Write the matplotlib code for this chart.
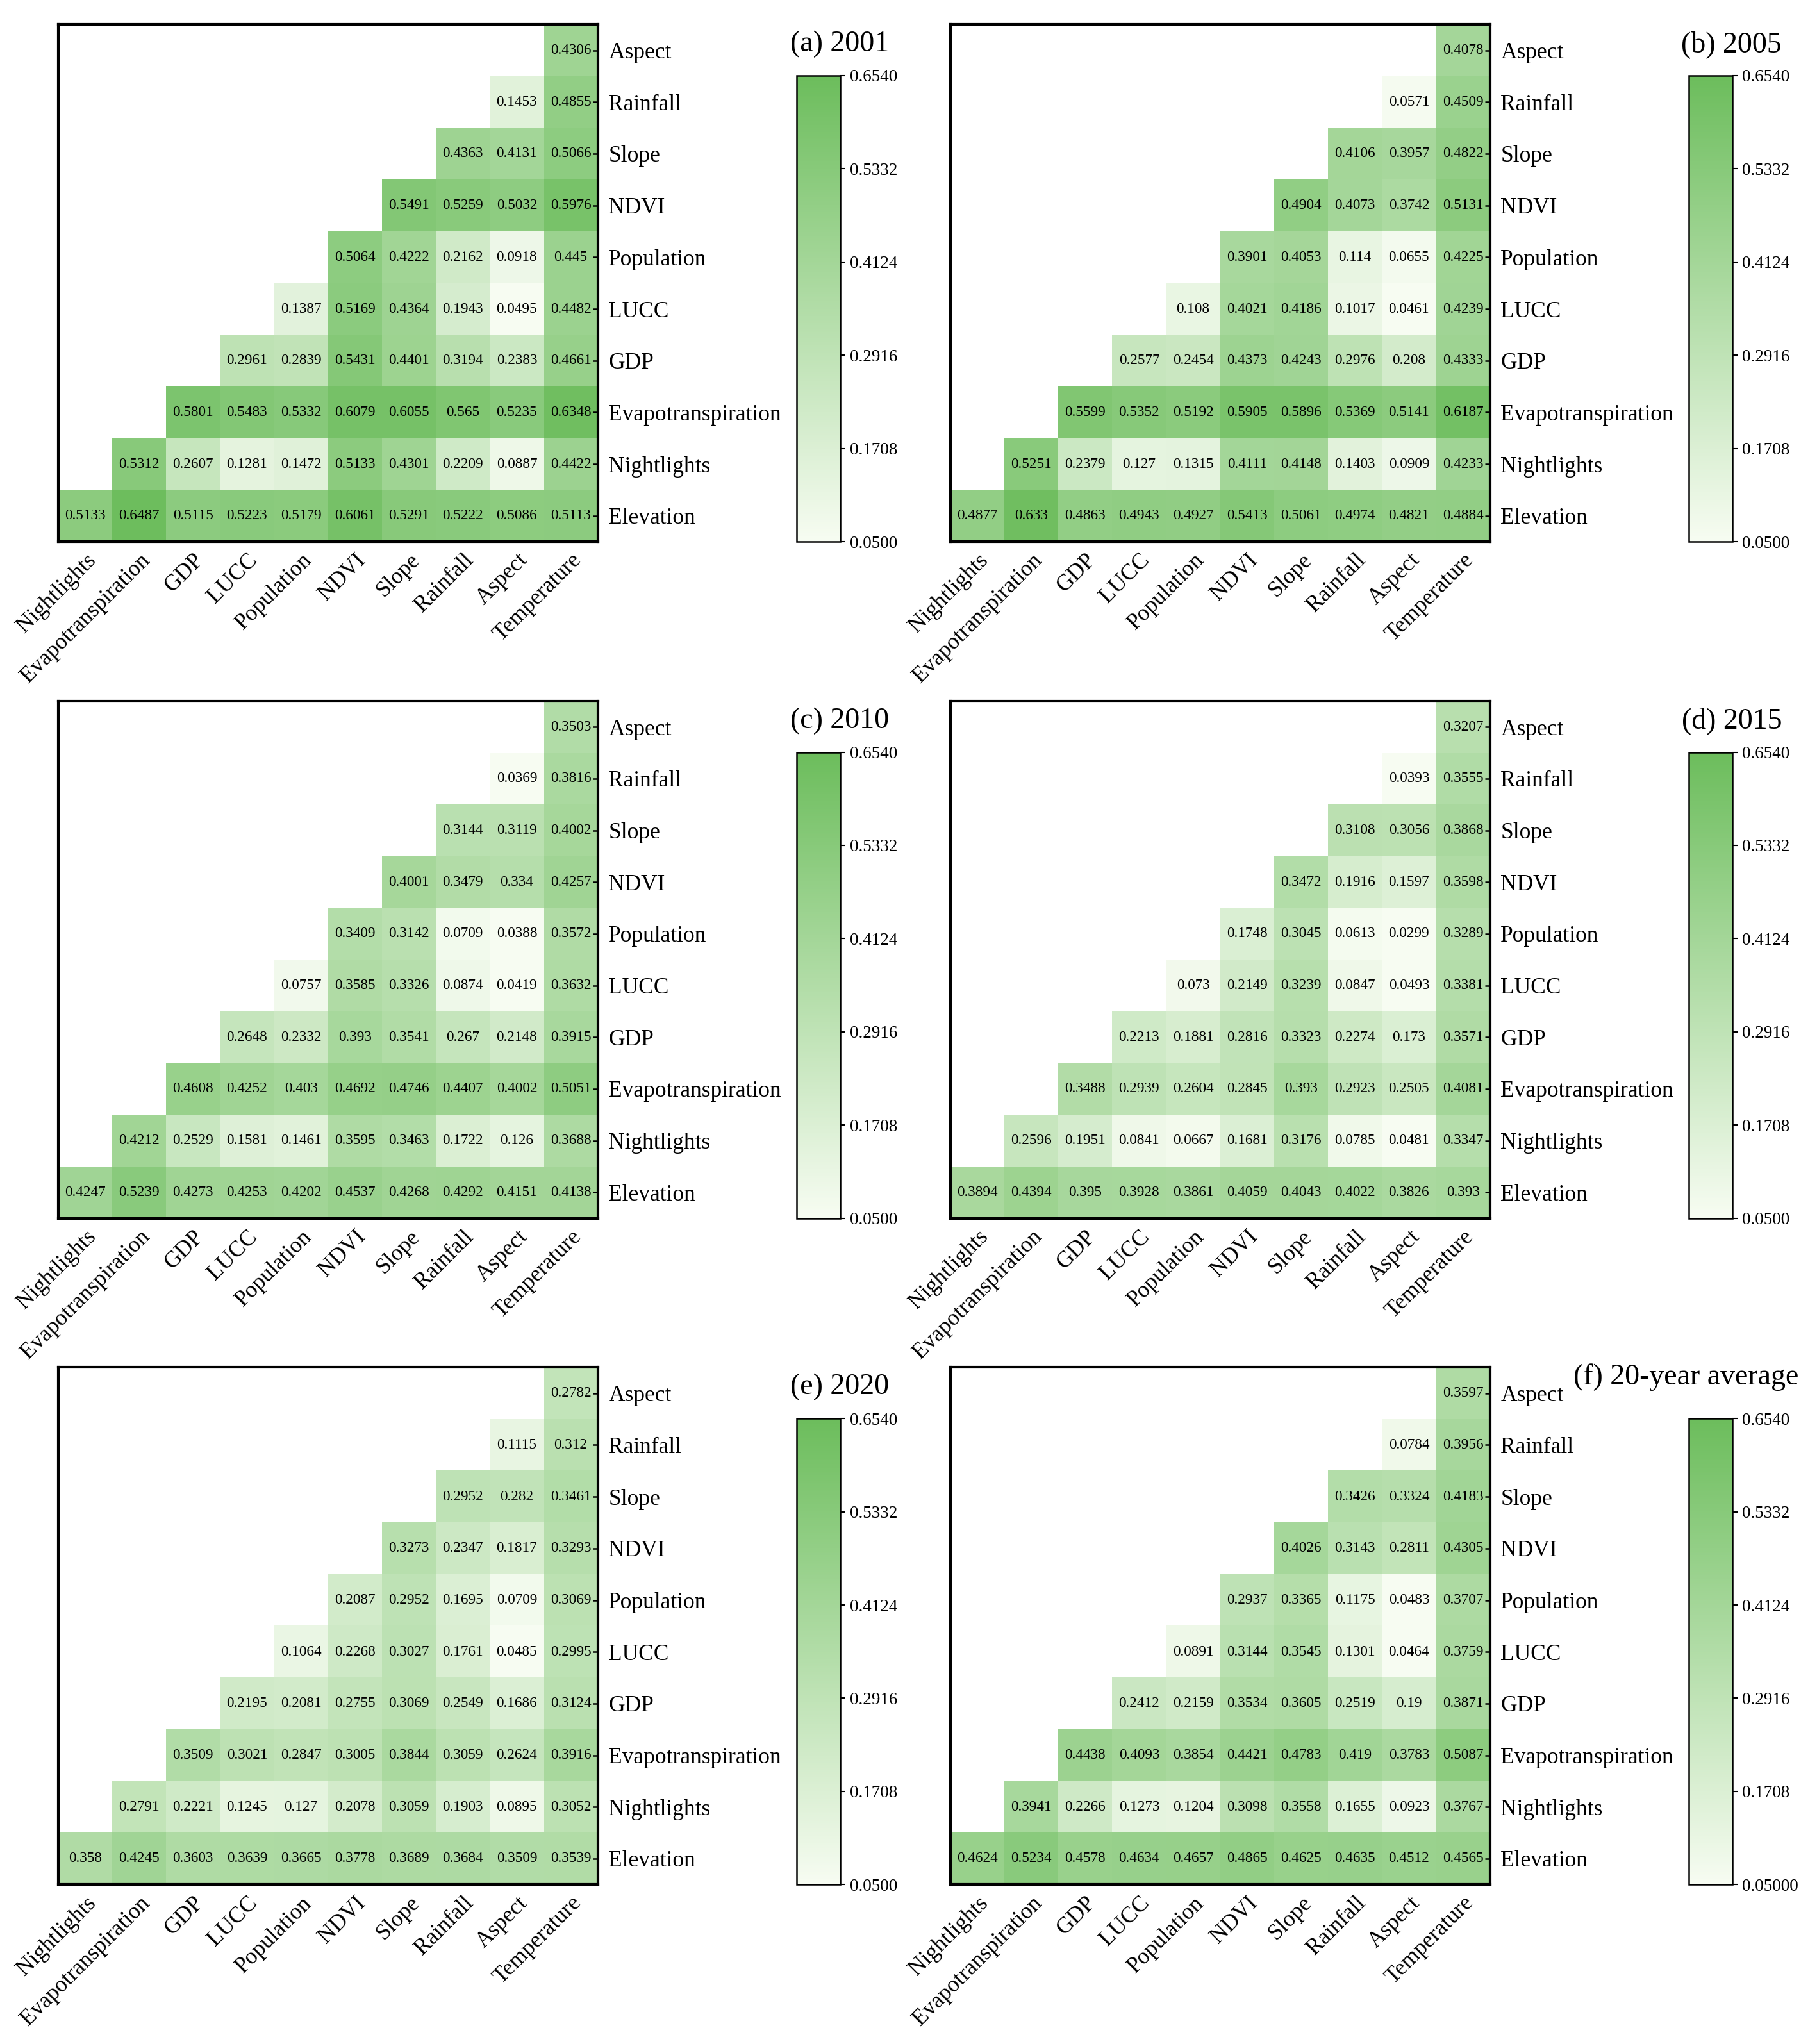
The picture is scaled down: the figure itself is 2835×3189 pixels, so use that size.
import matplotlib
matplotlib.use("Agg")
import matplotlib.pyplot as plt
import numpy as np
from matplotlib.colors import LinearSegmentedColormap

plt.rcParams['font.family'] = ['Liberation Serif', 'DejaVu Serif']

rows = ['Aspect', 'Rainfall', 'Slope', 'NDVI', 'Population', 'LUCC', 'GDP',
        'Evapotranspiration', 'Nightlights', 'Elevation']
cols = ['Nightlights', 'Evapotranspiration', 'GDP', 'LUCC', 'Population', 'NDVI',
        'Slope', 'Rainfall', 'Aspect', 'Temperature']

# each row lists its values left to right (right-aligned triangle)
y2001 = [[0.4306], [0.1453, 0.4855], [0.4363, 0.4131, 0.5066],
         [0.5491, 0.5259, 0.5032, 0.5976], [0.5064, 0.4222, 0.2162, 0.0918, 0.445],
         [0.1387, 0.5169, 0.4364, 0.1943, 0.0495, 0.4482],
         [0.2961, 0.2839, 0.5431, 0.4401, 0.3194, 0.2383, 0.4661],
         [0.5801, 0.5483, 0.5332, 0.6079, 0.6055, 0.565, 0.5235, 0.6348],
         [0.5312, 0.2607, 0.1281, 0.1472, 0.5133, 0.4301, 0.2209, 0.0887, 0.4422],
         [0.5133, 0.6487, 0.5115, 0.5223, 0.5179, 0.6061, 0.5291, 0.5222, 0.5086, 0.5113]]
y2005 = [[0.4078], [0.0571, 0.4509], [0.4106, 0.3957, 0.4822],
         [0.4904, 0.4073, 0.3742, 0.5131], [0.3901, 0.4053, 0.114, 0.0655, 0.4225],
         [0.108, 0.4021, 0.4186, 0.1017, 0.0461, 0.4239],
         [0.2577, 0.2454, 0.4373, 0.4243, 0.2976, 0.208, 0.4333],
         [0.5599, 0.5352, 0.5192, 0.5905, 0.5896, 0.5369, 0.5141, 0.6187],
         [0.5251, 0.2379, 0.127, 0.1315, 0.4111, 0.4148, 0.1403, 0.0909, 0.4233],
         [0.4877, 0.633, 0.4863, 0.4943, 0.4927, 0.5413, 0.5061, 0.4974, 0.4821, 0.4884]]
y2010 = [[0.3503], [0.0369, 0.3816], [0.3144, 0.3119, 0.4002],
         [0.4001, 0.3479, 0.334, 0.4257], [0.3409, 0.3142, 0.0709, 0.0388, 0.3572],
         [0.0757, 0.3585, 0.3326, 0.0874, 0.0419, 0.3632],
         [0.2648, 0.2332, 0.393, 0.3541, 0.267, 0.2148, 0.3915],
         [0.4608, 0.4252, 0.403, 0.4692, 0.4746, 0.4407, 0.4002, 0.5051],
         [0.4212, 0.2529, 0.1581, 0.1461, 0.3595, 0.3463, 0.1722, 0.126, 0.3688],
         [0.4247, 0.5239, 0.4273, 0.4253, 0.4202, 0.4537, 0.4268, 0.4292, 0.4151, 0.4138]]
y2015 = [[0.3207], [0.0393, 0.3555], [0.3108, 0.3056, 0.3868],
         [0.3472, 0.1916, 0.1597, 0.3598], [0.1748, 0.3045, 0.0613, 0.0299, 0.3289],
         [0.073, 0.2149, 0.3239, 0.0847, 0.0493, 0.3381],
         [0.2213, 0.1881, 0.2816, 0.3323, 0.2274, 0.173, 0.3571],
         [0.3488, 0.2939, 0.2604, 0.2845, 0.393, 0.2923, 0.2505, 0.4081],
         [0.2596, 0.1951, 0.0841, 0.0667, 0.1681, 0.3176, 0.0785, 0.0481, 0.3347],
         [0.3894, 0.4394, 0.395, 0.3928, 0.3861, 0.4059, 0.4043, 0.4022, 0.3826, 0.393]]
y2020 = [[0.2782], [0.1115, 0.312], [0.2952, 0.282, 0.3461],
         [0.3273, 0.2347, 0.1817, 0.3293], [0.2087, 0.2952, 0.1695, 0.0709, 0.3069],
         [0.1064, 0.2268, 0.3027, 0.1761, 0.0485, 0.2995],
         [0.2195, 0.2081, 0.2755, 0.3069, 0.2549, 0.1686, 0.3124],
         [0.3509, 0.3021, 0.2847, 0.3005, 0.3844, 0.3059, 0.2624, 0.3916],
         [0.2791, 0.2221, 0.1245, 0.127, 0.2078, 0.3059, 0.1903, 0.0895, 0.3052],
         [0.358, 0.4245, 0.3603, 0.3639, 0.3665, 0.3778, 0.3689, 0.3684, 0.3509, 0.3539]]
yavg = [[0.3597], [0.0784, 0.3956], [0.3426, 0.3324, 0.4183],
        [0.4026, 0.3143, 0.2811, 0.4305], [0.2937, 0.3365, 0.1175, 0.0483, 0.3707],
        [0.0891, 0.3144, 0.3545, 0.1301, 0.0464, 0.3759],
        [0.2412, 0.2159, 0.3534, 0.3605, 0.2519, 0.19, 0.3871],
        [0.4438, 0.4093, 0.3854, 0.4421, 0.4783, 0.419, 0.3783, 0.5087],
        [0.3941, 0.2266, 0.1273, 0.1204, 0.3098, 0.3558, 0.1655, 0.0923, 0.3767],
        [0.4624, 0.5234, 0.4578, 0.4634, 0.4657, 0.4865, 0.4625, 0.4635, 0.4512, 0.4565]]

panels = [y2001, y2005, y2010, y2015, y2020, yavg]
titles = ['(a) 2001', '(b) 2005', '(c) 2010', '(d) 2015', '(e) 2020', '(f) 20-year average']
cbar_ticks = [0.05, 0.1708, 0.2916, 0.4124, 0.5332, 0.654]

cmap = LinearSegmentedColormap.from_list('gr', ['#f7fcf2', '#6cbd5c'])
vmin, vmax = 0.05, 0.654

fig = plt.figure(figsize=(9.45, 10.63), dpi=300)

lefts = [0.032, 0.523]
tops = [0.988, 0.657, 0.331]
w, h = 0.297, 0.253

for k, data in enumerate(panels):
    r, c = divmod(k, 2)
    left = lefts[c]
    bottom = tops[r] - h
    ax = fig.add_axes([left, bottom, w, h])
    n = len(rows)
    mat = np.full((n, n), np.nan)
    for i, vals in enumerate(data):
        mat[i, n - len(vals):] = vals
    ax.imshow(np.ma.masked_invalid(mat), cmap=cmap, vmin=vmin, vmax=vmax,
              aspect='auto', interpolation='nearest')
    for i, vals in enumerate(data):
        for j, v in enumerate(vals):
            ax.text(n - len(vals) + j, i, f'{v:g}', ha='center', va='center', fontsize=5.6)
    ax.set_xticks(range(n))
    ax.set_xticklabels(cols, rotation=45, ha='right', rotation_mode='anchor', fontsize=8.5)
    ax.set_yticks(range(n))
    ax.set_yticklabels(rows, fontsize=8.5)
    ax.yaxis.tick_right()
    ax.tick_params(axis='x', length=0, pad=3)
    ax.tick_params(axis='y', length=2, width=0.6, direction='in', pad=4)
    for s in ax.spines.values():
        s.set_linewidth(1.0)

    cax = fig.add_axes([left + 0.4065, bottom + 0.0, 0.024, 0.228])
    sm = plt.cm.ScalarMappable(cmap=cmap, norm=plt.Normalize(vmin, vmax))
    cb = fig.colorbar(sm, cax=cax, ticks=cbar_ticks)
    labels = [f'{t:.4f}' for t in cbar_ticks]
    if k == 5:
        labels[0] = '0.05000'
    cb.ax.set_yticklabels(labels, fontsize=6.5)
    cb.ax.tick_params(length=2, width=0.5, pad=1.5)
    cb.outline.set_linewidth(0.6)

    if k < 5:
        fig.text(left + 0.43, tops[r] - 0.003, titles[k], ha='center', va='top', fontsize=11)
    else:
        fig.text(0.99, tops[r] + 0.002, titles[k], ha='right', va='top', fontsize=11)

fig.savefig('out.png', dpi=300)
